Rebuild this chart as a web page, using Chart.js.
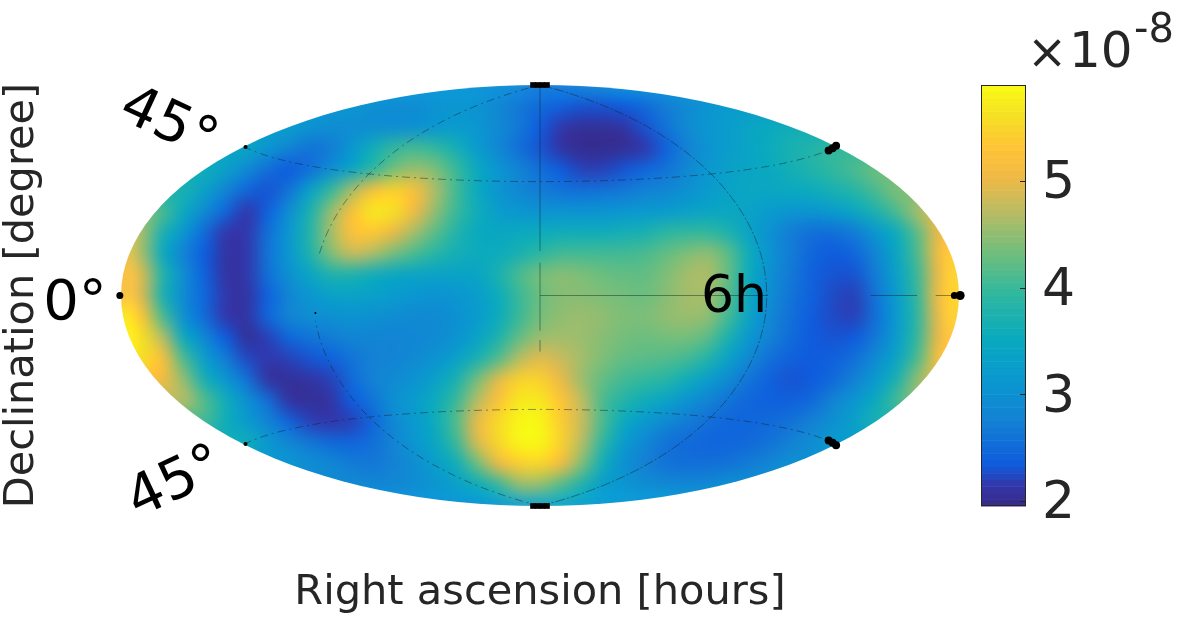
<!DOCTYPE html>
<html><head><meta charset="utf-8">
<style>html,body{margin:0;padding:0;background:#fff}canvas{display:block}</style>
<script src="https://cdn.jsdelivr.net/npm/chart.js@4"></script></head>
<body><canvas id="c" width="1181" height="624"></canvas>
<script>
// Sky grid: projected longitude / latitude positions in degrees
const gridLon = [-180,-171,-162,-153,-144,-135,-126,-117,-108,-99,-90,-81,-72,-63,-54,-45,-36,-27,-18,-9,0,9,18,27,36,45,54,63,72,81,90,99,108,117,126,135,144,153,162,171,180];
const gridLat = [90,81,72,63,54,45,36,27,18,9,0,-9,-18,-27,-36,-45,-54,-63,-72,-81,-90];
// first gridLon column read in each row (rows only cover the visible ellipse)
const rowStart = [16,11,8,6,4,3,1,0,0,0,0,0,0,0,0,3,4,6,8,11,16];
// values in units of 1e-8
const skyRows = [
[3.05,3.0,2.95,2.85,2.7,2.7,2.8,2.9,3.0],
[3.1,3.0,2.95,2.95,3.05,3.1,3.05,2.85,2.65,2.5,2.4,2.3,2.3,2.35,2.5,2.7,2.9,3.05,3.2],
[3.25,3.05,2.95,2.95,2.95,2.95,3.0,3.1,3.2,3.1,2.9,2.65,2.35,2.15,2.05,2.05,2.1,2.3,2.6,2.9,3.1,3.25,3.4,3.5,3.6],
[3.4,3.1,2.8,2.6,2.7,3.1,3.6,3.95,4.05,3.95,3.65,3.2,2.85,2.55,2.3,2.1,2.0,2.0,2.03,2.15,2.4,2.75,3.05,3.25,3.4,3.55,3.7,3.8,3.95],
[3.6,3.3,2.9,2.55,2.35,2.55,2.95,3.4,3.9,4.35,4.55,4.4,4.0,3.5,3.1,2.8,2.55,2.35,2.2,2.2,2.3,2.45,2.6,2.85,3.1,3.3,3.4,3.5,3.65,3.8,3.95,4.1,4.3],
[3.7,3.3,2.8,2.45,2.3,2.6,3.3,3.95,4.6,5.2,5.45,5.2,4.65,4.05,3.5,3.1,2.85,2.7,2.6,2.55,2.6,2.65,2.75,2.85,3.0,3.2,3.35,3.45,3.45,3.5,3.55,3.7,3.85,4.1,4.4],
[4.5,4.1,3.5,2.9,2.45,2.15,2.4,2.95,3.7,4.5,5.2,5.7,5.6,5.05,4.5,4.0,3.6,3.25,3.1,3.05,3.05,3.05,3.05,3.1,3.15,3.2,3.3,3.4,3.45,3.35,3.2,3.1,3.1,3.2,3.45,3.75,4.1,4.6,5.0],
[5.0,4.6,3.7,3.1,2.5,2.15,2.15,2.55,3.1,3.8,4.6,5.25,5.35,5.0,4.6,4.2,3.8,3.5,3.45,3.5,3.55,3.6,3.6,3.6,3.65,3.7,3.9,3.95,3.95,3.75,3.35,3.0,2.7,2.55,2.55,2.7,3.1,3.55,4.2,5.0,5.0],
[5.1,4.6,3.5,2.75,2.35,2.1,2.15,2.6,3.1,3.75,4.4,4.8,4.65,4.35,4.1,3.85,3.65,3.55,3.55,3.7,3.9,4.05,4.05,4.05,4.05,4.1,4.25,4.4,4.5,4.2,3.55,3.05,2.7,2.45,2.35,2.45,2.8,3.4,4.1,5.1,5.4],
[5.2,4.9,3.8,2.95,2.4,2.1,2.15,2.55,3.0,3.4,3.75,3.75,3.6,3.45,3.4,3.35,3.35,3.4,3.7,4.1,4.35,4.45,4.4,4.3,4.25,4.25,4.4,4.6,4.65,4.25,3.5,3.0,2.65,2.4,2.3,2.3,2.7,3.3,4.0,5.0,5.5],
[5.2,4.9,3.7,2.9,2.45,2.15,2.1,2.4,2.8,3.1,3.3,3.35,3.3,3.2,3.1,3.05,3.1,3.25,3.55,4.0,4.3,4.45,4.45,4.4,4.35,4.3,4.45,4.6,4.6,4.15,3.45,2.95,2.6,2.4,2.25,2.2,2.6,3.2,3.95,5.1,5.5],
[5.75,5.3,4.1,3.0,2.5,2.15,2.1,2.45,2.8,2.95,3.0,3.05,3.0,2.95,2.9,2.9,3.0,3.2,3.55,4.0,4.35,4.5,4.55,4.5,4.4,4.4,4.5,4.55,4.5,4.05,3.35,2.85,2.55,2.35,2.25,2.2,2.55,3.15,3.9,5.0,5.5],
[5.75,5.6,4.7,3.5,2.85,2.35,2.05,2.2,2.45,2.6,2.7,2.8,2.8,2.8,2.85,2.9,3.05,3.35,3.75,4.25,4.55,4.6,4.55,4.45,4.35,4.3,4.35,4.35,4.2,3.7,3.1,2.75,2.5,2.35,2.3,2.35,2.65,3.2,3.95,5.0,5.3],
[5.6,5.6,5.2,4.1,3.25,2.7,2.25,2.15,2.2,2.3,2.4,2.6,2.75,2.8,2.9,3.05,3.3,3.7,4.15,4.7,4.95,4.8,4.6,4.4,4.25,4.2,4.15,4.05,3.8,3.3,2.85,2.55,2.4,2.35,2.4,2.55,2.9,3.4,4.1,5.2,5.3],
[5.2,5.2,5.1,4.5,3.65,3.1,2.6,2.1,2.05,2.1,2.2,2.5,2.75,2.9,3.05,3.3,3.7,4.35,4.95,5.45,5.45,5.0,4.55,4.25,4.05,3.95,3.85,3.6,3.25,2.9,2.6,2.4,2.3,2.35,2.5,2.75,3.15,3.7,4.5,5.0,5.0],
[4.7,4.15,3.6,3.0,2.55,2.1,2.05,2.1,2.35,2.6,3.0,3.2,3.55,4.0,4.7,5.25,5.7,5.7,5.3,4.75,4.1,3.8,3.6,3.35,3.05,2.8,2.6,2.45,2.4,2.4,2.5,2.8,3.1,3.5,4.05,4.5],
[4.05,3.6,3.2,2.8,2.45,2.2,2.15,2.2,2.45,2.85,3.15,3.55,4.15,5.0,5.55,5.85,5.85,5.4,4.8,4.1,3.5,3.15,2.9,2.7,2.55,2.45,2.45,2.5,2.6,2.75,3.0,3.3,3.7],
[3.6,3.15,2.85,2.65,2.5,2.45,2.55,2.8,3.1,3.45,4.0,4.9,5.5,5.85,5.85,5.45,4.7,3.9,3.2,2.85,2.6,2.5,2.45,2.45,2.5,2.6,2.75,2.95,3.2],
[3.1,2.95,2.85,2.7,2.65,2.75,2.95,3.25,3.6,4.3,5.0,5.4,5.5,5.1,4.4,3.6,3.0,2.75,2.6,2.55,2.55,2.6,2.7,2.85,3.0],
[2.9,2.85,2.85,2.95,3.1,3.3,3.55,3.95,4.5,4.5,4.15,3.75,3.25,3.1,2.95,2.9,2.85,2.9,3.0],
[3.0,3.0,3.1,3.2,3.3,3.3,3.2,3.15,3.1]
];
// Colour bar
const cbarTicks = [2,3,4,5];
const cbarMin = 1.95, cbarMax = 5.9;
// Parula stops
const cmapPos = [0,.05,.1,.2,.3,.4,.5,.6,.7,.78,.85,.93,1];
const cmapRGB = [[53,42,135],[50,55,170],[15,92,221],[20,128,212],[10,152,208],[10,170,190],[45,183,160],[110,190,125],[185,188,100],[240,185,70],[255,195,55],[245,225,35],[249,251,20]];
// Black marker blobs at graticule ends (lon, lat, radius, style)
const markLon = [-3,-1,1,3,-3,-1,1,3,124,125.7,127.2,124,125.7,127.2,-126.5,-126.5,-180.5,178,180.5,-96.5];
const markLat = [90,90,90,90,-90,-90,-90,-90,62,63,64,-62,-63,-64,63.5,-63.5,0,0,0,-7.5];
const markR   = [4,4,4,4,4,4,4,4,4,4,4,4,4,4,2,2,3.5,3.5,4.5,1];
const markStyle = ['rect','rect','rect','rect','rect','rect','rect','rect','circle','circle','circle','circle','circle','circle','circle','circle','circle','circle','circle','circle'];

function parula(v){
  const f=Math.min(1,Math.max(0,(v-cbarMin)/(cbarMax-cbarMin)));
  let i=0; while(i<cmapPos.length-2&&f>cmapPos[i+1])i++;
  const t=(f-cmapPos[i])/(cmapPos[i+1]-cmapPos[i]);
  const c=cmapRGB[i].map((a,k)=>Math.round(a+(cmapRGB[i+1][k]-a)*t));
  return `rgb(${c[0]},${c[1]},${c[2]})`;
}
// cell list, with cells outside the ellipse taking the row's nearest read value (they get clipped)
const cells=[];
for(let rr=-1;rr<=gridLat.length;rr++){
  const r=Math.max(0,Math.min(gridLat.length-1,rr));
  const lat=gridLat[r]+(rr<0?9:rr>=gridLat.length?-9:0);
  for(let cc=-1;cc<=gridLon.length;cc++){
    const c=Math.max(0,Math.min(gridLon.length-1,cc));
    const lon=gridLon[c]+(cc<0?-9:cc>=gridLon.length?9:0);
    const row=skyRows[r];
    const idx=Math.max(0,Math.min(row.length-1,c-rowStart[r]));
    cells.push({x:lon,y:lat,v:row[idx]});
  }
}
function hammer(lonD,latD){
  const l=lonD*Math.PI/180,p=latD*Math.PI/180;
  const d=Math.sqrt(1+Math.cos(p)*Math.cos(l/2));
  return [180*Math.cos(p)*Math.sin(l/2)/d, 90*Math.sin(p)/d];
}
const INK='#262626';
const font='"DejaVu Sans"';
function strokePath(chart,pts,dash){
  const {x,y}=chart.scales,ctx=chart.ctx;
  ctx.save();ctx.lineWidth=.9;ctx.strokeStyle='rgba(20,30,40,.5)';ctx.setLineDash(dash||[]);
  ctx.beginPath();
  pts.forEach((p,i)=>{const px=x.getPixelForValue(p[0]),py=y.getPixelForValue(p[1]);i?ctx.lineTo(px,py):ctx.moveTo(px,py);});
  ctx.stroke();ctx.restore();
}
const skyPlugin={
  id:'sky',
  afterDatasetDraw(chart,args){
    if(args.index!==0)return;
    const ctx=chart.ctx,{x,y}=chart.scales,cv=chart.canvas;
    const copy=document.createElement('canvas');copy.width=cv.width;copy.height=cv.height;
    copy.getContext('2d').drawImage(cv,0,0);
    // one pixel per cell, sampled at cell centres, then smoothly enlarged
    const nx=gridLon.length+2,ny=gridLat.length+2;
    const px0=x.getPixelForValue(-180-13.5),px1=x.getPixelForValue(180+13.5);
    const py0=y.getPixelForValue(90+13.5),py1=y.getPixelForValue(-90-13.5);
    const small=document.createElement('canvas');small.width=nx;small.height=ny;
    const sc=small.getContext('2d');sc.imageSmoothingEnabled=false;
    sc.drawImage(copy,px0,py0,px1-px0,py1-py0,0,0,nx,ny);
    ctx.save();
    ctx.fillStyle='#fff';ctx.fillRect(85,40,900,510);
    const cx=x.getPixelForValue(0),cy=y.getPixelForValue(0);
    ctx.beginPath();
    ctx.ellipse(cx,cy,x.getPixelForValue(180)-cx,y.getPixelForValue(-90)-cy,0,0,Math.PI*2);
    ctx.clip();
    ctx.imageSmoothingEnabled=true;ctx.imageSmoothingQuality='high';
    ctx.filter='blur(3px)';
    ctx.drawImage(small,0,0,nx,ny,px0,py0,px1-px0,py1-py0);
    ctx.filter='none';
    ctx.restore();
    // graticule
    const mer=(lon,a,b)=>{const p=[];for(let la=a;la<=b;la+=3)p.push(hammer(lon,la));return p;};
    const par=(lat)=>{const p=[];for(let lo=-180;lo<=180;lo+=5)p.push(hammer(lo,lat));return p;};
    [45,-45].forEach(l=>strokePath(chart,par(l),[8,4,2,4]));
    strokePath(chart,mer(90,-90,90),[10,2,2,2]);
    strokePath(chart,mer(-90,-90,-9),[8,4,2,4]);
    strokePath(chart,mer(-90,15,90),[8,4,2,4]);
    strokePath(chart,[[0,90],[0,19]]);
    strokePath(chart,[[0,14],[0,-15]]);
    strokePath(chart,[[0,-19],[0,-24]]);
    strokePath(chart,[[0,0],[98,0]]);
    strokePath(chart,[[142,0],[162,0]]);
    strokePath(chart,[[170,0],[178,0]]);
  },
  afterDraw(chart){
    const ctx=chart.ctx,sc=chart.scales.y2;
    // colour bar
    const L=981,R=1026,T=sc.getPixelForValue(cbarMax),B=sc.getPixelForValue(cbarMin);
    const n=64;
    for(let i=0;i<n;i++){
      const a=cbarMin+(cbarMax-cbarMin)*i/n,b=cbarMin+(cbarMax-cbarMin)*(i+1)/n;
      ctx.fillStyle=parula((a+b)/2);
      const y0=sc.getPixelForValue(b),y1=sc.getPixelForValue(a);
      ctx.fillRect(L,y0,R-L,y1-y0+.5);
    }
    ctx.strokeStyle=INK;ctx.lineWidth=1;ctx.strokeRect(L+.5,T+.5,R-L-1,B-T-1);
    cbarTicks.forEach(v=>{const p=Math.round(sc.getPixelForValue(v))+.5;ctx.beginPath();ctx.moveTo(R-6,p);ctx.lineTo(R,p);ctx.stroke();});
    // multiplier
    ctx.fillStyle=INK;ctx.textBaseline='alphabetic';ctx.textAlign='left';
    ctx.font='48px "DejaVu Sans ExtraLight","DejaVu Sans"';ctx.fillText('×',1027,68);
    ctx.font='50px '+font;ctx.fillText('10',1069,67);
    ctx.font='40px '+font;ctx.fillText('-8',1134,42);
    // labels
    ctx.fillStyle='#000';ctx.textAlign='center';ctx.textBaseline='middle';
    ctx.font='52px '+font;
    ctx.fillText('6h',734,298);
    ctx.font='56px '+font;
    ctx.fillText('0°',75,304);
    const rot=(t,px,py,a)=>{ctx.save();ctx.translate(px,py);ctx.rotate(a*Math.PI/180);ctx.fillText(t,0,0);ctx.restore();};
    rot('45°',168,125,25);
    rot('45°',176,484,-25);
  }
};
new Chart(document.getElementById('c'),{
  type:'scatter',
  data:{datasets:[
    {label:'sky',order:10,clip:false,data:cells,pointStyle:'rect',pointRadius:16,pointBorderWidth:0,
     pointBackgroundColor:cells.map(c=>parula(c.v)),pointBorderColor:'transparent'},
    {label:'marks',order:1,clip:false,data:markLon.map((x,i)=>({x,y:markLat[i]})),pointStyle:markStyle,
     pointRadius:markR,pointBackgroundColor:'#000',pointBorderWidth:0}
  ]},
  options:{
    responsive:false,animation:false,
    layout:{padding:{top:85,left:0,right:0,bottom:0}},
    plugins:{legend:{display:false},tooltip:{enabled:false}},
    events:[],
    scales:{
      x:{type:'linear',min:-180,max:180,position:'bottom',grid:{display:false},border:{display:false},
         ticks:{display:false},
         title:{display:true,text:'Right ascension [hours]',color:INK,font:{family:font,size:41.5},padding:{top:0,bottom:6}},
         afterFit(s){s.height=118;}},
      y:{type:'linear',min:-90,max:90,position:'left',grid:{display:false},border:{display:false},
         ticks:{display:false},
         title:{display:true,text:'Declination [degree]',color:INK,font:{family:font,size:41.5,lineHeight:1.05},padding:{top:0,bottom:0}},
         afterFit(s){s.width=121;}},
      y2:{type:'linear',min:cbarMin,max:cbarMax,position:'right',grid:{display:false},border:{display:false},
         afterBuildTicks(s){s.ticks=cbarTicks.map(v=>({value:v}));},
         ticks:{color:INK,padding:75,labelOffset:4,font:{family:font,size:52},callback:v=>String(v)},
         afterFit(s){s.width=222;s.paddingTop=0;s.paddingBottom=0;}}
    }
  },
  plugins:[skyPlugin]
});
</script></body></html>
